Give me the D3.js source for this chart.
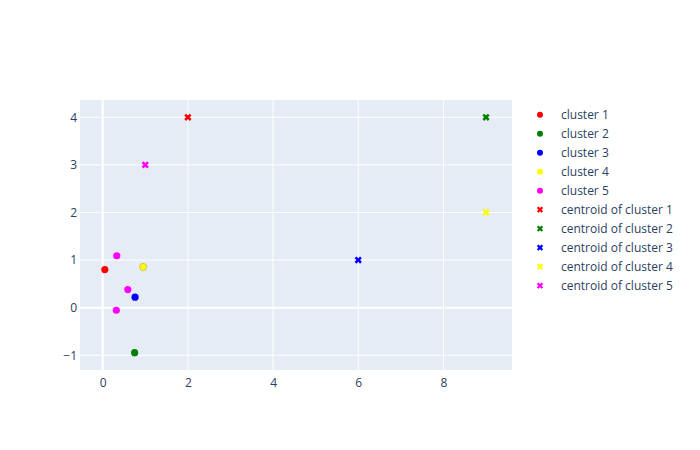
<!DOCTYPE html>
<html>
<head>
<meta charset="utf-8">
<script src="https://cdn.jsdelivr.net/npm/d3@7"></script>
<style>
  body { margin: 0; background: #fff; }
  svg { font-family: "Open Sans", verdana, arial, sans-serif; }
</style>
</head>
<body>
<svg id="chart" width="700" height="450"></svg>
<script>
// ----- data -----
const clusterNames = ["cluster 1", "cluster 2", "cluster 3", "cluster 4", "cluster 5"];
const clusterColors = ["red", "green", "blue", "yellow", "magenta"];
const cluster1 = [[0.05, 0.80]];
const cluster2 = [[0.75, -0.945]];
const cluster3 = [[0.76, 0.22]];
const cluster4 = [[0.95, 0.855]];
const cluster5 = [[0.33, 1.09], [0.59, 0.38], [0.32, -0.055]];
const centroidNames = ["centroid of cluster 1", "centroid of cluster 2", "centroid of cluster 3", "centroid of cluster 4", "centroid of cluster 5"];
const centroids = [[2, 4], [9, 4], [6, 1], [9, 2], [1, 3]];
const xTicks = [0, 2, 4, 6, 8];
const yTicks = [-1, 0, 1, 2, 3, 4];

const clusters = [cluster1, cluster2, cluster3, cluster4, cluster5];

// ----- layout -----
const svg = d3.select("#chart");
const W = 700, H = 450;
const m = { left: 80, top: 100, right: 188, bottom: 80 };
const pw = W - m.left - m.right, ph = H - m.top - m.bottom;

const x = d3.scaleLinear().domain([-0.533, 9.61]).range([m.left, m.left + pw]);
const y = d3.scaleLinear().domain([-1.31, 4.363]).range([m.top + ph, m.top]);

svg.append("rect").attr("x", m.left).attr("y", m.top).attr("width", pw).attr("height", ph).attr("fill", "#E5ECF6");

const grid = svg.append("g");
grid.selectAll(".gx").data(xTicks).join("line")
  .attr("x1", d => x(d)).attr("x2", d => x(d)).attr("y1", m.top).attr("y2", m.top + ph)
  .attr("stroke", "#fff").attr("stroke-width", d => d === 0 ? 2 : 1);
grid.selectAll(".gy").data(yTicks).join("line")
  .attr("y1", d => y(d)).attr("y2", d => y(d)).attr("x1", m.left).attr("x2", m.left + pw)
  .attr("stroke", "#fff").attr("stroke-width", d => d === 0 ? 2 : 1);

// axes (labels only)
const xAxis = d3.axisBottom(x).tickValues(xTicks).tickSize(0).tickPadding(8).tickFormat(d3.format("d"));
const gx = svg.append("g").attr("transform", `translate(0,${m.top + ph})`).call(xAxis);
gx.select(".domain").remove();
gx.selectAll("text").attr("fill", "#2a3f5f").style("font-size", "12px").style("font-family", '"Open Sans", verdana, arial, sans-serif');

const yAxis = d3.axisLeft(y).tickValues(yTicks).tickSize(0).tickPadding(3).tickFormat(d => d < 0 ? "\u2212" + Math.abs(d) : d);
const gy = svg.append("g").attr("transform", `translate(${m.left},0)`).call(yAxis);
gy.select(".domain").remove();
gy.selectAll("text").attr("fill", "#2a3f5f").style("font-size", "12px").style("font-family", '"Open Sans", verdana, arial, sans-serif');

// x symbol path like plotly
function xPath(r) {
  const rx = Math.round(r * 0.8 / Math.sqrt(2) * 100) / 100;
  const ne = 'l' + rx + ',' + rx, se = 'l' + rx + ',-' + rx, sw = 'l-' + rx + ',-' + rx, nw = 'l-' + rx + ',' + rx;
  return 'M0,' + rx + ne + se + sw + se + sw + nw + sw + nw + ne + nw + ne + 'Z';
}

const plot = svg.append("g");
clusters.forEach((pts, i) => {
  plot.selectAll(null).data(pts).join("circle")
    .attr("cx", d => x(d[0])).attr("cy", d => y(d[1])).attr("r", 3.6)
    .attr("fill", clusterColors[i])
    .attr("stroke", i === 3 ? "#a8a848" : "none").attr("stroke-width", 0.6);
});
centroids.forEach((c, i) => {
  plot.append("path").attr("d", xPath(3.2))
    .attr("transform", `translate(${x(c[0])},${y(c[1])})`)
    .attr("fill", clusterColors[i]);
});

// legend
const legend = svg.append("g");
const items = clusterNames.map((n, i) => ({ name: n, color: clusterColors[i], sym: "circle" }))
  .concat(centroidNames.map((n, i) => ({ name: n, color: clusterColors[i], sym: "x" })));
items.forEach((it, i) => {
  const ly = 114.7 + i * 19;
  if (it.sym === "circle") {
    legend.append("circle").attr("cx", 540).attr("cy", ly).attr("r", 3).attr("fill", it.color);
  } else {
    legend.append("path").attr("d", xPath(2.8)).attr("transform", `translate(540,${ly})`).attr("fill", it.color);
  }
  legend.append("text").attr("x", 561).attr("y", ly).attr("dy", "0.35em")
    .attr("fill", "#2a3f5f").style("font-size", "12px").text(it.name);
});
</script>
</body>
</html>
